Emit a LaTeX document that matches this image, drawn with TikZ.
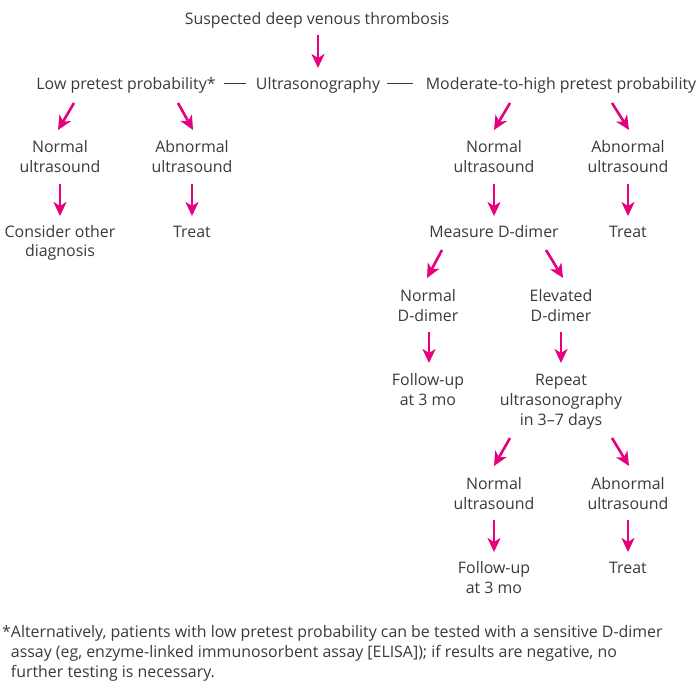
\documentclass[tikz,border=0pt]{standalone}
\usepackage{fontspec}
\setmainfont{Open Sans}
\usetikzlibrary{arrows.meta,calc}
\definecolor{mag}{HTML}{E6007E}
\definecolor{txt}{HTML}{3A3A3A}
\tikzset{
  lbl/.style={anchor=base, inner sep=0pt, align=center, text=txt,
    font=\fontsize{15.9}{20}\selectfont},
  arr/.style={draw=mag, line width=2.6pt,
    -{Stealth[length=14pt,width=13pt,inset=4pt]}},
  link/.style={draw=txt, line width=0.8pt}
}
\begin{document}
\begin{tikzpicture}[x=1pt,y=-1pt]
\useasboundingbox (0,0) rectangle (700,700);
% single-line nodes: anchor at baseline; multi-line nodes: anchor at last baseline
\node[lbl] (top) at (317,25) {Suspected deep venous thrombosis};
\node[lbl] (us) at (318,90) {Ultrasonography};
\node[lbl] (low) at (126,90) {Low pretest probability*};
\node[lbl] (mod) at (561,90) {Moderate-to-high pretest probability};
\node[lbl] (lnorm) at (60,173) {Normal\\ultrasound};
\node[lbl] (labn) at (192,173) {Abnormal\\ultrasound};
\node[lbl] (lcons) at (60,257) {Consider other\\diagnosis};
\node[lbl] (ltreat) at (192,237) {Treat};
\node[lbl] (rnorm) at (494,173) {Normal\\ultrasound};
\node[lbl] (rabn) at (628,173) {Abnormal\\ultrasound};
\node[lbl] (meas) at (494,237) {Measure D-dimer};
\node[lbl] (rtreat) at (628,237) {Treat};
\node[lbl] (dnorm) at (428,321) {Normal\\D-dimer};
\node[lbl] (delev) at (561,321) {Elevated\\D-dimer};
\node[lbl] (fua) at (428,405) {Follow-up\\at 3 mo};
\node[lbl] (rep) at (561,425) {Repeat\\ultrasonography\\in 3--7 days};
\node[lbl] (snorm) at (494,509) {Normal\\ultrasound};
\node[lbl] (sabn) at (628,509) {Abnormal\\ultrasound};
\node[lbl] (fub) at (494,593) {Follow-up\\at 3 mo};
\node[lbl] (streat) at (628,573) {Treat};
\node[lbl, anchor=base west, align=left] (foot) at (2,677)
  {*Alternatively, patients with low pretest probability can be tested with a sensitive D-dimer\\
   \hphantom{*}assay (eg, enzyme-linked immunosorbent assay [ELISA]); if results are negative, no\\
   \hphantom{*}further testing is necessary.};
% links
\draw[link] ($(low.base east)+(8,-7)$) -- ($(us.base west)+(-10,-7)$);
\draw[link] ($(us.base east)+(7,-7)$) -- ($(mod.base west)+(-13,-7)$);
% arrows
\draw[arr] ($(top.base)+(1,10)$) -- ($(us.base)+(0,-22)$);
\draw[arr] ($(low.base)+(-52,13)$) -- ($(lnorm.base)+(-2,-43)$);
\draw[arr] ($(low.base)+(52,13)$) -- ($(labn.base)+(1,-43)$);
\draw[arr] ($(mod.base)+(-51,13)$) -- ($(rnorm.base)+(0,-43)$);
\draw[arr] ($(mod.base)+(51,13)$) -- ($(rabn.base)+(1,-43)$);
\draw[arr] ($(lnorm.base)+(0,11)$) -- ($(lcons.base)+(0,-41)$);
\draw[arr] ($(labn.base)+(0,11)$) -- ($(ltreat.base)+(0,-21)$);
\draw[arr] ($(rnorm.base)+(0,11)$) -- ($(meas.base)+(0,-21)$);
\draw[arr] ($(rabn.base)+(0,11)$) -- ($(rtreat.base)+(0,-21)$);
\draw[arr] ($(meas.base)+(-52,13)$) -- ($(dnorm.base)+(-1,-43)$);
\draw[arr] ($(meas.base)+(52,13)$) -- ($(delev.base)+(2,-43)$);
\draw[arr] ($(dnorm.base)+(1,11)$) -- ($(fua.base)+(1,-42)$);
\draw[arr] ($(delev.base)+(0,11)$) -- ($(rep.base)+(0,-62)$);
\draw[arr] ($(rep.base)+(-51,13)$) -- ($(snorm.base)+(0,-43)$);
\draw[arr] ($(rep.base)+(51,13)$) -- ($(sabn.base)+(1,-43)$);
\draw[arr] ($(snorm.base)+(0,11)$) -- ($(fub.base)+(0,-41)$);
\draw[arr] ($(sabn.base)+(0,11)$) -- ($(streat.base)+(0,-21)$);
\end{tikzpicture}
\end{document}
